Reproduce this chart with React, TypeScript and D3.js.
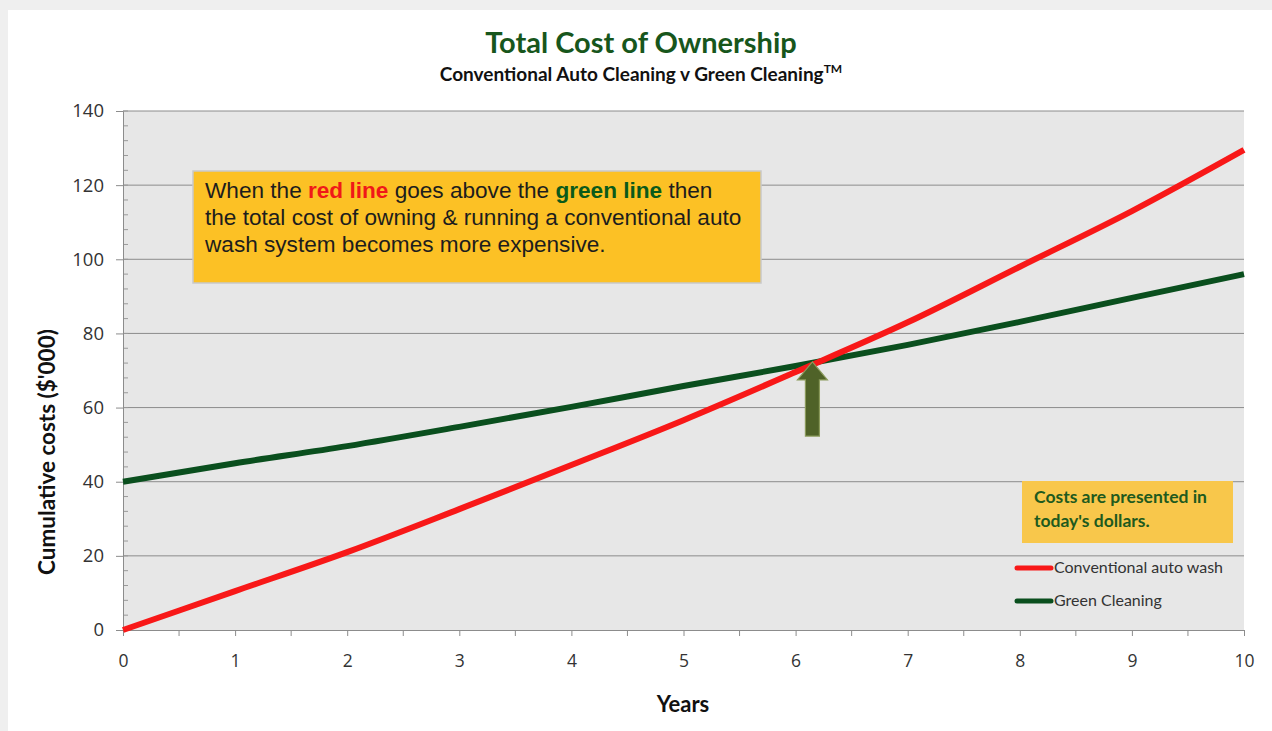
import React, { useRef, useEffect } from 'react';
import * as d3 from 'd3';

// Years 0..10
const years = [0, 1, 2, 3, 4, 5, 6, 7, 8, 9, 10];
// Cumulative costs ($'000)
const conventional = [0, 10.5, 21, 32.6, 44.5, 56.6, 69.6, 83, 98, 113, 129.5];
const greenCleaning = [40, 45, 49.6, 54.8, 60.2, 65.8, 71.2, 76.9, 83.1, 89.6, 96];
const yTicks = [0, 20, 40, 60, 80, 100, 120, 140];
const xTicks = [0, 1, 2, 3, 4, 5, 6, 7, 8, 9, 10];
const seriesNames = ['Conventional auto wash', 'Green Cleaning'];
const arrowPoint = { x: 6.15, yTop: 72.3, yBottom: 52.3 };

const W = 1272;
const H = 731;
const RED = '#f81818';
const GREEN = '#0a4f1e';

const App: React.FC = () => {
    const svgRef = useRef<SVGSVGElement>(null);

    useEffect(() => {
        if (!svgRef.current) return;
        const svg = d3.select(svgRef.current);
        svg.selectAll('*').remove();

        const margin = { top: 111, right: 28, bottom: 101, left: 123 };
        const innerWidth = W - margin.left - margin.right;
        const innerHeight = H - margin.top - margin.bottom;

        // page background + white card
        svg.append('rect').attr('width', W).attr('height', H).attr('fill', '#efefef');
        svg.append('rect').attr('x', 8).attr('y', 10).attr('width', W - 8).attr('height', H - 10).attr('fill', '#ffffff');

        const g = svg.append('g').attr('transform', `translate(${margin.left},${margin.top})`);

        const x = d3.scaleLinear().domain([0, 10]).range([0, innerWidth]);
        const y = d3.scaleLinear().domain([0, 140]).range([innerHeight, 0]);

        // plot area
        g.append('rect').attr('width', innerWidth).attr('height', innerHeight).attr('fill', '#e7e7e7');

        // horizontal grid
        g.append('g')
            .selectAll('line')
            .data(yTicks.filter(d => d > 0))
            .join('line')
            .attr('x1', 0).attr('x2', innerWidth)
            .attr('y1', d => y(d)).attr('y2', d => y(d))
            .attr('stroke', '#8c8c8c').attr('stroke-width', 1);

        // y minor ticks (inside)
        g.append('g')
            .selectAll('line')
            .data(d3.range(0, 141, 4))
            .join('line')
            .attr('x1', 0).attr('x2', 5)
            .attr('y1', d => y(d)).attr('y2', d => y(d))
            .attr('stroke', '#9a9a9a');

        // y axis
        const yAxis = g.append('g')
            .call(d3.axisLeft(y).tickValues(yTicks).tickSize(7).tickPadding(12));
        yAxis.select('.domain').attr('stroke', '#8c8c8c');
        yAxis.selectAll('.tick line').attr('stroke', '#8c8c8c');
        yAxis.selectAll('text')
            .attr('font-family', 'Open Sans, sans-serif')
            .attr('font-size', '18.5px')
            .attr('fill', '#333');

        // x axis
        const xAxis = g.append('g')
            .attr('transform', `translate(0,${innerHeight})`)
            .call(d3.axisBottom(x).tickValues(xTicks).tickSize(6).tickPadding(19));
        xAxis.select('.domain').attr('stroke', '#8c8c8c');
        xAxis.selectAll('.tick line').attr('stroke', '#8c8c8c');
        xAxis.selectAll('text')
            .attr('font-family', 'Open Sans, sans-serif')
            .attr('font-size', '17.5px')
            .attr('fill', '#333');
        xAxis.append('g')
            .selectAll('line')
            .data(d3.range(0.5, 10, 1))
            .join('line')
            .attr('x1', d => x(d)).attr('x2', d => x(d))
            .attr('y1', 0).attr('y2', 6)
            .attr('stroke', '#8c8c8c');

        // lines
        const line = d3.line<number>()
            .x((_, i) => x(years[i]))
            .y(d => y(d))
            .curve(d3.curveMonotoneX);

        g.append('path').datum(greenCleaning)
            .attr('fill', 'none').attr('stroke', GREEN).attr('stroke-width', 6)
            .attr('d', line);
        g.append('path').datum(conventional)
            .attr('fill', 'none').attr('stroke', RED).attr('stroke-width', 6)
            .attr('d', line);

        // arrow
        const ax = x(arrowPoint.x);
        const aTop = y(arrowPoint.yTop);
        const aBot = y(arrowPoint.yBottom);
        const headH = 18;
        const shaftW = 7;
        const headW = 15;
        g.append('path')
            .attr('d', `M${ax},${aTop} L${ax + headW},${aTop + headH} L${ax + shaftW},${aTop + headH} L${ax + shaftW},${aBot} L${ax - shaftW},${aBot} L${ax - shaftW},${aTop + headH} L${ax - headW},${aTop + headH} Z`)
            .attr('fill', '#4f6228')
            .attr('stroke', '#8a9a5b')
            .attr('stroke-width', 1.2);

        // annotation box
        g.append('rect')
            .attr('x', 193 - margin.left).attr('y', 171 - margin.top)
            .attr('width', 568).attr('height', 112)
            .attr('fill', '#fcc125').attr('stroke', '#c9c9c9').attr('stroke-width', 1.5);
        const note = g.append('text')
            .attr('font-family', 'Liberation Sans, Arial, sans-serif')
            .attr('font-size', '22.6px')
            .attr('fill', '#1d1d1d');
        const l1 = note.append('tspan').attr('x', 205 - margin.left).attr('y', 198 - margin.top);
        l1.append('tspan').text('When the ');
        l1.append('tspan').text('red line').attr('fill', '#f01818').attr('font-weight', 'bold');
        l1.append('tspan').text(' goes above the ');
        l1.append('tspan').text('green line').attr('fill', '#0a5a1a').attr('font-weight', 'bold');
        l1.append('tspan').text(' then');
        note.append('tspan').attr('x', 205 - margin.left).attr('y', 225 - margin.top)
            .text('the total cost of owning & running a conventional auto');
        note.append('tspan').attr('x', 205 - margin.left).attr('y', 252 - margin.top)
            .text('wash system becomes more expensive.');

        // dollars box
        g.append('rect')
            .attr('x', 1022 - margin.left).attr('y', 481 - margin.top)
            .attr('width', 211).attr('height', 62)
            .attr('fill', '#f8c74b');
        const dn = g.append('text')
            .attr('font-family', 'Lato, sans-serif')
            .attr('font-weight', 'bold')
            .attr('font-size', '17.5px')
            .attr('fill', '#1e5a1e');
        dn.append('tspan').attr('x', 1034 - margin.left).attr('y', 503 - margin.top).text('Costs are presented in');
        dn.append('tspan').attr('x', 1034 - margin.left).attr('y', 527 - margin.top).text("today's dollars.");

        // legend
        const legendColors = [RED, GREEN];
        seriesNames.forEach((name, i) => {
            const ly = 568 + i * 33 - margin.top;
            g.append('line')
                .attr('x1', 1017 - margin.left).attr('x2', 1051 - margin.left)
                .attr('y1', ly).attr('y2', ly)
                .attr('stroke', legendColors[i]).attr('stroke-width', 5).attr('stroke-linecap', 'round');
            g.append('text')
                .attr('x', 1054 - margin.left).attr('y', ly + 5)
                .attr('font-family', 'Lato, sans-serif')
                .attr('font-size', '16px')
                .attr('fill', '#333')
                .text(name);
        });

        // titles
        svg.append('text')
            .attr('x', 641).attr('y', 53)
            .attr('text-anchor', 'middle')
            .attr('font-family', 'Lato, sans-serif')
            .attr('font-weight', 'bold')
            .attr('font-size', '29px')
            .attr('fill', '#17561c')
            .text('Total Cost of Ownership');
        const sub = svg.append('text')
            .attr('x', 641).attr('y', 81)
            .attr('text-anchor', 'middle')
            .attr('font-family', 'Lato, sans-serif')
            .attr('font-weight', 'bold')
            .attr('font-size', '19px')
            .attr('fill', '#111');
        sub.append('tspan').text('Conventional Auto Cleaning v Green Cleaning');
        sub.append('tspan').attr('font-size', '12px').attr('dy', -8).text('TM');

        // axis titles
        svg.append('text')
            .attr('transform', `translate(55,452) rotate(-90)`)
            .attr('text-anchor', 'middle')
            .attr('font-family', 'Lato, sans-serif')
            .attr('font-weight', 'bold')
            .attr('font-size', '22.5px')
            .attr('fill', '#111')
            .text("Cumulative costs ($'000)");
        svg.append('text')
            .attr('x', 683).attr('y', 712)
            .attr('text-anchor', 'middle')
            .attr('font-family', 'Lato, sans-serif')
            .attr('font-weight', 'bold')
            .attr('font-size', '22px')
            .attr('fill', '#111')
            .text('Years');
    }, []);

    return (
        <div style={{ position: 'absolute', left: 0, top: 0, width: W, height: H }}>
            <svg ref={svgRef} width={W} height={H} viewBox={`0 0 ${W} ${H}`} style={{ display: 'block' }} />
        </div>
    );
};

export default App;
